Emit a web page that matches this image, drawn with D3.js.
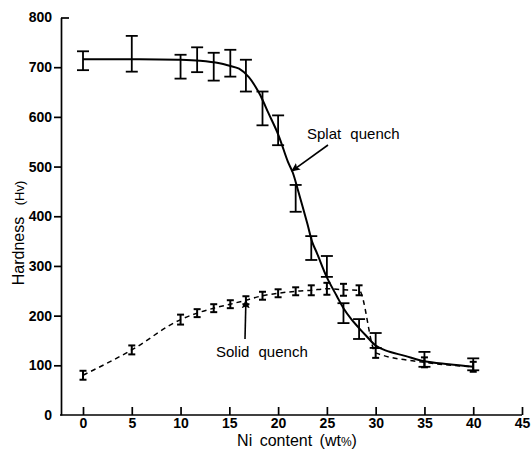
<!DOCTYPE html>
<html>
<head>
<meta charset="utf-8">
<script src="https://cdn.jsdelivr.net/npm/d3@7"></script>
<style>
  body { margin: 0; background: #fff; }
  svg { display: block; font-family: "Liberation Sans", Arial, sans-serif; }
</style>
</head>
<body>
<svg class="chart"></svg>
<script>
var width = 532
var height = 452

// Ni content (wt%) where both series were measured
var niContent = [0, 5, 10, 11.7, 13.4, 15.1, 16.7, 18.4, 20, 21.8, 23.4, 25, 26.7, 28.3, 30, 35, 40]
// splat quench: mean hardness and half error bar
var splatHv  = [713, 727, 701, 715, 701, 708, 683, 617, 573, 436, 336, 299, 205, 173, 150, 112, 102]
var splatErr = [19, 36, 24, 25, 28, 27, 32, 34, 30, 27, 24, 21, 20, 20, 15, 15, 12]
// solid quench
var solidHv  = [80, 131, 192, 205, 215, 223, 231, 240, 245, 249, 251, 254, 252, 251, 125, 106, 97]
var solidErr = [9, 9, 10, 8, 8, 8, 8, 8, 8, 8, 10, 12, 12, 10, 10, 10, 10]
// smooth curve drawn through the splat quench data
var fitNi = [0, 5, 10, 12, 14, 15, 16, 17, 18, 18.5, 19, 20, 21, 21.5, 22, 23, 23.5, 24, 25, 26, 26.7, 27.5, 28.2, 29, 30, 31, 33, 35, 37.5, 40]
var fitHv = [716, 716, 715, 713, 708, 703, 697, 680, 650, 630, 608, 565, 510, 488, 455, 385, 348, 325, 277, 240, 215, 193, 177, 160, 140, 130, 119, 108, 102, 97]

var xTicks = [0, 5, 10, 15, 20, 25, 30, 35, 40, 45]
var yTicks = [0, 100, 200, 300, 400, 500, 600, 700, 800]

var svg = d3.select('.chart')
    .attr('width', width)
    .attr('height', height)

var x = d3.scaleLinear().domain([0, 45]).range([83, 522])
var y = d3.scaleLinear().domain([0, 800]).range([415, 17.5])

var defs = svg.append('defs')
defs.append('marker')
    .attr('id', 'head')
    .attr('viewBox', '0 0 10 10')
    .attr('refX', 9)
    .attr('refY', 5)
    .attr('markerWidth', 9)
    .attr('markerHeight', 9)
    .attr('markerUnits', 'userSpaceOnUse')
    .attr('orient', 'auto')
    .append('path')
    .attr('d', 'M0,0.5 L10,5 L0,9.5 L2,5 Z')
    .attr('fill', '#000')

// axes
var xAxis = svg.append('g')
    .attr('transform', 'translate(0,' + y(0) + ')')
    .call(d3.axisBottom(x).tickValues(xTicks).tickSizeInner(-8).tickSizeOuter(0).tickPadding(3))
xAxis.select('.domain').attr('d', 'M60,0H522')

var yAxis = svg.append('g')
    .attr('transform', 'translate(61,0)')
    .call(d3.axisLeft(y).tickValues(yTicks).tickSizeInner(7).tickSizeOuter(0).tickPadding(2))
yAxis.selectAll('.tick').filter(d => d == 800).select('line').attr('x2', 8)
yAxis.selectAll('.tick').filter(d => d == 0).select('line').remove()

svg.selectAll('.domain, .tick line').attr('stroke', '#000').attr('stroke-width', 1.7)
svg.selectAll('.tick text')
    .attr('fill', '#000')
    .style('font-size', '14px')
    .style('font-weight', 'bold')
    .style('font-family', '"Liberation Sans", Arial, sans-serif')

svg.append('text')
    .attr('x', 297)
    .attr('y', 446)
    .attr('text-anchor', 'middle')
    .style('font-size', '16px')
    .style('word-spacing', '3px')
    .html('Ni content (wt<tspan style="font-size:12px">%</tspan>)')

svg.append('text')
    .attr('transform', 'translate(24,233) rotate(-90)')
    .attr('text-anchor', 'middle')
    .style('font-size', '16px')
    .style('word-spacing', '7px')
    .html('Hardness <tspan style="font-size:13px">(Hv)</tspan>')

// curves
var fit = fitNi.map((d, i) => [d, fitHv[i]])
svg.append('path')
    .datum(fit)
    .attr('fill', 'none')
    .attr('stroke', '#000')
    .attr('stroke-width', 2)
    .attr('d', d3.line().x(d => x(d[0])).y(d => y(d[1])).curve(d3.curveCatmullRom))

var solid = niContent.map((d, i) => [d, solidHv[i], solidErr[i]])
svg.append('path')
    .datum(solid)
    .attr('fill', 'none')
    .attr('stroke', '#000')
    .attr('stroke-width', 1.5)
    .attr('stroke-dasharray', '5,4')
    .attr('d', d3.line().x(d => x(d[0])).y(d => y(d[1])).curve(d3.curveMonotoneX))

function errorBars(data, cap, sw) {
    var g = svg.append('g').attr('stroke', '#000').attr('stroke-width', sw).attr('fill', 'none')
    var bars = g.selectAll('g').data(data).enter().append('g')
    bars.append('line')
        .attr('x1', d => x(d[0])).attr('x2', d => x(d[0]))
        .attr('y1', d => y(d[1] + d[2])).attr('y2', d => y(d[1] - d[2]))
    bars.append('line')
        .attr('x1', d => x(d[0]) - cap).attr('x2', d => x(d[0]) + cap)
        .attr('y1', d => y(d[1] + d[2])).attr('y2', d => y(d[1] + d[2]))
    bars.append('line')
        .attr('x1', d => x(d[0]) - cap).attr('x2', d => x(d[0]) + cap)
        .attr('y1', d => y(d[1] - d[2])).attr('y2', d => y(d[1] - d[2]))
}

errorBars(niContent.map((d, i) => [d, splatHv[i], splatErr[i]]), 6, 1.8)
errorBars(solid, 3.5, 2)

// annotations
svg.append('text')
    .attr('x', 307)
    .attr('y', 139)
    .style('font-size', '15px')
    .style('word-spacing', '5px')
    .text('Splat quench')
svg.append('line')
    .attr('x1', 328).attr('y1', 145)
    .attr('x2', x(21.4)).attr('y2', y(491))
    .attr('stroke', '#000').attr('stroke-width', 1.6)
    .attr('marker-end', 'url(#head)')

svg.append('text')
    .attr('x', 216)
    .attr('y', 357)
    .style('font-size', '15px')
    .style('word-spacing', '5px')
    .text('Solid quench')
svg.append('line')
    .attr('x1', 245).attr('y1', 339)
    .attr('x2', x(16.7)).attr('y2', y(231))
    .attr('stroke', '#000').attr('stroke-width', 1.6)
    .attr('marker-end', 'url(#head)')
</script>
</body>
</html>
